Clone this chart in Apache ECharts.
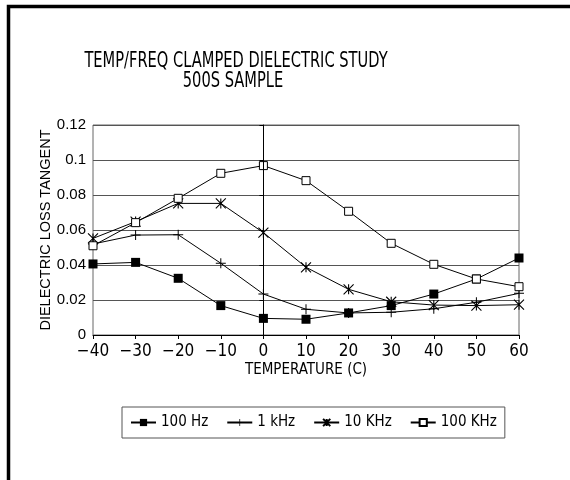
<!DOCTYPE html>
<html><head><meta charset="utf-8">
<script src="https://cdn.jsdelivr.net/npm/echarts@6/dist/echarts.min.js"></script>
<style>html,body{margin:0;padding:0;background:#fff}#c{width:570px;height:480px}</style>
</head><body><div id="c"></div>
<script>
var temps = [-40, -30, -20, -10, 0, 10, 20, 30, 40, 50, 60];
var hz100 = [0.0406, 0.0415, 0.0324, 0.0168, 0.0095, 0.0090, 0.0126, 0.0168, 0.0234, 0.0320, 0.0440];
var khz1 = [0.0520, 0.0571, 0.0573, 0.0410, 0.0234, 0.0147, 0.0126, 0.0130, 0.0150, 0.0187, 0.0238];
var khz10 = [0.0552, 0.0648, 0.0752, 0.0752, 0.0585, 0.0387, 0.0261, 0.0190, 0.0171, 0.0168, 0.0173];
var khz100 = [0.0510, 0.0642, 0.0781, 0.0924, 0.0968, 0.0882, 0.0707, 0.0524, 0.0404, 0.0320, 0.0276];
var seriesNames = ['100 Hz', '1 kHz', '10 KHz', '100 KHz'];
var titleLines = ['TEMP/FREQ CLAMPED DIELECTRIC STUDY', '500S SAMPLE'];
var xName = 'TEMPERATURE (C)';
var yName = 'DIELECTRIC LOSS TANGENT';

function pairs(v){ return temps.map(function(t,i){ return [t, v[i]]; }); }
var NARROW = '"Liberation Sans Narrow", "DejaVu Sans Condensed", sans-serif';
var SANS = '"Liberation Sans", Arial, sans-serif';

var plusPath = 'path://M4.5,0h1v10h-1z M0,4.5h10v1h-10z';
var starPath = 'path://M0,0L10,10M10,0L0,10M5,0L5,10';

function mk(name, data, symbol, size, fill, bw){
  return {
    name: name, type: 'line', data: pairs(data), symbol: symbol, symbolSize: size,
    showAllSymbol: true, z: 3,
    lineStyle: {color: '#000', width: 1},
    itemStyle: {color: fill, borderColor: '#000', borderWidth: bw || 0},
    emphasis: {disabled: true}, animation: false
  };
}

var series = [
  mk(seriesNames[0], hz100, 'rect', 9, '#000', 0),
  mk(seriesNames[1], khz1, plusPath, 10, '#000', 0),
  mk(seriesNames[2], khz10, starPath, 10, '#000', 1.1),
  mk(seriesNames[3], khz100, 'rect', 8, '#fff', 1)
];
series[0].markLine = {
  silent: true, symbol: 'none', label: {show: false}, animation: false,
  lineStyle: {color: '#000', width: 1, type: 'solid'},
  data: [{xAxis: 0}]
};

var chart = echarts.init(document.getElementById('c'), null, {renderer: 'canvas'});
chart.setOption({
  animation: false,
  backgroundColor: '#fff',
  grid: {left: 93, right: 51, top: 125, bottom: 145, show: true, borderColor: '#666', borderWidth: 1},
  graphic: [
    {type: 'polyline', shape: {points: [[8.5, 600], [8.5, 6.5], [600, 6.5]]}, style: {stroke: '#000', lineWidth: 3.5, fill: null}},
    {type: 'text', x: 236, y: 51, scaleY: 1.28, style: {text: titleLines[0], font: '16.3px ' + NARROW, fill: '#000', textAlign: 'center', textVerticalAlign: 'top'}},
    {type: 'text', x: 233, y: 71, scaleY: 1.28, style: {text: titleLines[1], font: '16.3px ' + NARROW, fill: '#000', textAlign: 'center', textVerticalAlign: 'top'}}
  ],
  legend: {
    left: 122, top: 407, padding: [8, 8], itemGap: 18,
    itemWidth: 25, itemHeight: 9,
    borderColor: '#555', borderWidth: 1,
    textStyle: {fontFamily: NARROW, fontSize: 15, color: '#000'},
    data: seriesNames
  },
  xAxis: {
    type: 'value', min: -40, max: 60, interval: 10,
    name: xName, nameLocation: 'middle', nameGap: 28, nameMoveOverlap: false,
    nameTextStyle: {fontFamily: NARROW, fontSize: 15, color: '#000'},
    axisLine: {show: true, onZero: false, lineStyle: {color: '#000', width: 1}},
    axisTick: {show: true, length: 4, lineStyle: {color: '#000'}},
    axisLabel: {fontFamily: NARROW, fontSize: 17, color: '#000', margin: 8,
      formatter: function(v){ return v < 0 ? '\u2212' + Math.abs(v) : String(v); }},
    splitLine: {show: false}
  },
  yAxis: {
    type: 'value', min: 0, max: 0.12, interval: 0.02,
    name: yName, nameLocation: 'middle', nameGap: 40, nameMoveOverlap: false,
    nameTextStyle: {fontFamily: SANS, fontSize: 14.5, color: '#000'},
    axisLine: {show: true, lineStyle: {color: '#000', width: 1}},
    axisTick: {show: true, length: 4, lineStyle: {color: '#000'}},
    axisLabel: {fontFamily: SANS, fontSize: 15, color: '#000', margin: 7},
    splitLine: {show: true, lineStyle: {color: '#555', width: 1}}
  },
  series: series
});
</script></body></html>
